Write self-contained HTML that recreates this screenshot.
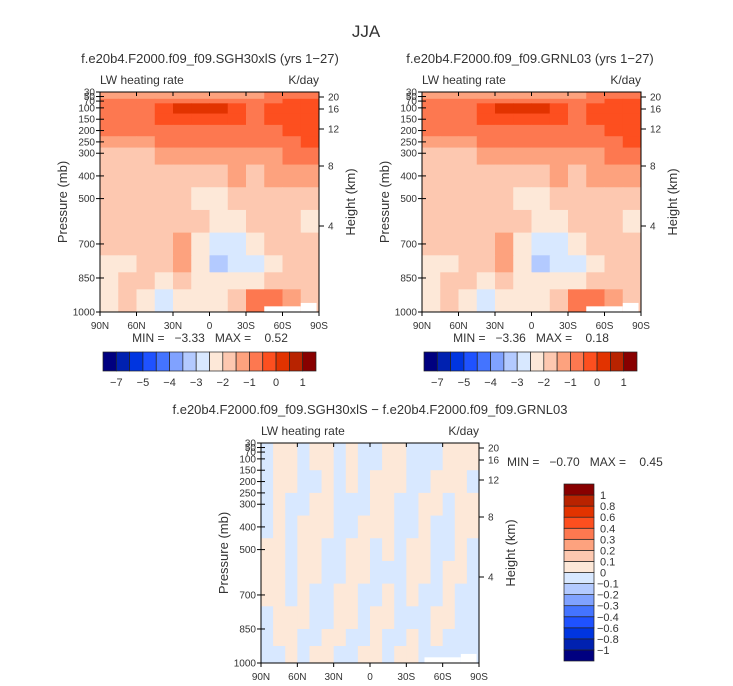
<!DOCTYPE html>
<html><head><meta charset="utf-8"><style>
html,body{margin:0;padding:0;background:#fff;}
svg{display:block;font-family:"Liberation Sans",sans-serif;}
text{white-space:pre;}
</style></head><body>
<svg id="s" width="733" height="686" xmlns="http://www.w3.org/2000/svg">
<text x="366" y="37" font-size="17" text-anchor="middle" fill="#333">JJA</text>
<text x="210" y="63" font-size="13" text-anchor="middle" fill="#333">f.e20b4.F2000.f09_f09.SGH30xlS (yrs 1−27)</text>
<text x="530" y="63" font-size="13" text-anchor="middle" fill="#333">f.e20b4.F2000.f09_f09.GRNL03 (yrs 1−27)</text>
<text x="370" y="414" font-size="13" text-anchor="middle" fill="#333">f.e20b4.F2000.f09_f09.SGH30xlS − f.e20b4.F2000.f09_f09.GRNL03</text>
<g id="g"></g>
</svg>
<script>
// ---- data ----
const pLevelsTop = [30,60,80,125,175,225,275,350,450,550,650,750,825,900,1000];
const latEdgesTop = [90,75,60,45,30,15,0,-15,-30,-45,-60,-75,-90];
const fieldA = [
[-1.2,-1.2,-1.2,-1.2,-1.2,-1.2,-1.2,-1.2,-1.2,-0.8,-0.8,-0.8],
[-0.8,-0.8,-0.8,-0.6,-0.6,-0.6,-0.6,-0.6,-0.7,-0.5,-0.3,-0.3],
[-0.8,-0.8,-0.7,-0.3,0.2,0.2,0.1,-0.3,-0.6,-0.4,-0.3,-0.3],
[-0.8,-0.8,-0.7,-0.4,-0.3,-0.3,-0.3,-0.4,-0.6,-0.3,-0.3,-0.3],
[-0.8,-0.8,-0.8,-0.8,-0.7,-0.6,-0.7,-0.8,-0.7,-0.6,-0.4,-0.3],
[-1.2,-1.2,-1.2,-0.9,-0.8,-0.8,-0.9,-0.9,-0.9,-0.8,-0.7,-0.4],
[-1.6,-1.6,-1.6,-1.2,-1.2,-1.2,-1.2,-1.2,-1.2,-1.0,-0.9,-0.8],
[-1.7,-1.7,-1.7,-1.6,-1.6,-1.8,-1.7,-1.2,-1.6,-1.2,-1.2,-1.2],
[-1.7,-1.7,-1.7,-1.9,-1.8,-2.1,-2.1,-1.6,-1.7,-1.6,-1.6,-1.8],
[-1.7,-1.7,-1.7,-1.8,-1.7,-1.6,-2.2,-2.1,-1.7,-1.7,-1.8,-2.1],
[-1.7,-1.7,-1.8,-1.7,-1.3,-2.0,-2.8,-2.6,-2.1,-1.8,-1.9,-1.9],
[-2.1,-2.1,-1.7,-1.7,-1.4,-2.2,-3.2,-2.8,-2.7,-2.2,-1.8,-1.8],
[-2.3,-1.7,-1.9,-2.1,-1.7,-2.1,-2.2,-2.3,-2.2,-1.9,-1.6,-1.7],
[-2.3,-1.5,-2.1,-2.7,-2.1,-2.0,-2.1,-1.6,-0.8,-0.6,-1.4,-1.5]];
const fieldB = fieldA;
const pLevelsDiff = [30,150,250,350,450,550,650,750,850,925,1000];
const latEdgesDiff = [90,80,70,60,50,40,30,20,10,0,-10,-20,-30,-40,-50,-60,-70,-80,-90];
const fieldDiff = [
[-0.05,0.05,0.05,-0.05,0.05,0.05,-0.05,0.05,-0.05,-0.05,0.05,0.05,-0.05,-0.05,-0.05,0.05,0.05,0.05],
[-0.05,0.05,0.05,-0.05,-0.05,0.05,-0.05,0.05,-0.05,0.05,0.05,0.05,-0.05,-0.05,0.05,0.05,0.05,-0.05],
[-0.05,0.05,-0.05,-0.05,0.05,0.05,-0.05,-0.05,-0.05,0.05,0.05,-0.05,-0.05,0.05,0.05,-0.05,0.05,0.05],
[-0.05,0.05,-0.05,0.05,0.05,0.05,-0.05,-0.05,0.05,0.05,0.05,-0.05,-0.05,0.05,-0.05,-0.05,0.05,0.05],
[0.05,0.05,-0.05,0.05,0.05,-0.05,-0.05,0.05,0.05,-0.05,0.05,-0.05,0.05,0.05,-0.05,-0.05,0.05,-0.05],
[0.05,0.05,-0.05,0.05,0.05,-0.05,-0.05,0.05,0.05,-0.05,-0.05,-0.05,0.05,0.05,-0.05,0.05,0.05,-0.05],
[0.05,0.05,-0.05,0.05,-0.05,-0.05,0.05,0.05,-0.05,-0.05,0.05,-0.05,0.05,-0.05,-0.05,0.05,-0.05,-0.05],
[-0.05,0.05,0.05,0.05,-0.05,-0.05,0.05,0.05,-0.05,0.05,0.05,-0.05,-0.05,-0.05,0.05,0.05,-0.05,-0.05],
[-0.05,0.05,0.05,-0.05,-0.05,0.05,0.05,-0.05,-0.05,0.05,-0.05,-0.05,0.05,-0.05,0.05,-0.05,-0.05,-0.05],
[-0.05,-0.05,0.05,-0.05,0.05,0.05,-0.05,-0.05,0.05,0.05,-0.05,0.05,0.05,-0.05,-0.05,-0.05,-0.05,-0.05]];
const threshTop = [-7,-6,-5,-4.5,-4,-3.5,-3,-2.5,-2,-1.5,-1,-0.5,0,0.5,1];
const threshDiff = [-1,-0.8,-0.6,-0.4,-0.3,-0.2,-0.1,0,0.1,0.2,0.3,0.4,0.6,0.8,1];
const colors = ["#000080","#0021b0","#0035e0","#1f52ff","#4474ff","#80a2ff","#b3caff","#d8e8ff","#fde8d8","#fdc8b0","#fda27e","#fd7850","#fd4f1f","#e23300","#b82300","#880000"];
const pTicks = [30,50,70,100,150,200,250,300,400,500,700,850,1000];
const zTicks = [[20,97],[16,109],[12,129],[8,166],[4,226]];
const latTicks = [90,60,30,0,-30,-60,-90];
const latLabels = ["90N","60N","30N","0","30S","60S","90S"];
const cbLabelsTop = ["−7","−5","−4","−3","−2","−1","0","1"];
const cbLabelsDiff = ["−1","−0.8","−0.6","−0.4","−0.3","−0.2","−0.1","0","0.1","0.2","0.3","0.4","0.6","0.8","1"];

const NS="http://www.w3.org/2000/svg";
const G=document.getElementById('g');
function el(t,a,p){const e=document.createElementNS(NS,t);for(const k in a)e.setAttribute(k,a[k]);(p||G).appendChild(e);return e;}
function txt(x,y,s,fs,anc,p){const e=el('text',{x:x,y:y,'font-size':fs,'text-anchor':anc||'start',fill:'#333'},p);e.textContent=s;return e;}
function colorFor(v,th){let k=0;while(k<th.length&&v>th[k])k++;return colors[k];}

function panel(name,x0,y0,w,h,lats,ps,field,th,zt,mask){
  const g=el('g',{});
  
  
  const xs=lat=>x0+(90-lat)/180*w;
  const ys=p=>y0+(p-30)/970*h;
  for(let r=0;r<field.length;r++)for(let c=0;c<field[r].length;c++){
    const x1=xs(lats[c]),x2=xs(lats[c+1]),y1=ys(ps[r]),y2=ys(ps[r+1]);
    const re=el('rect',{x:x1,y:y1,width:x2-x1+0.5,height:y2-y1+0.5,fill:colorFor(field[r][c],th)},g);
    
    
  }
  if(mask){el('rect',{x:xs(-45),y:ys(975),width:xs(-75)-xs(-45),height:ys(1000)-ys(975),fill:'#fff'},g);
           el('rect',{x:xs(-75),y:ys(960),width:xs(-88)-xs(-75),height:ys(1000)-ys(960),fill:'#fff'},g);}
  el('rect',{x:x0,y:y0,width:w,height:h,fill:'none',stroke:'#000','stroke-width':1},g);
  pTicks.forEach(p=>{const y=ys(p);el('line',{x1:x0-4,y1:y,x2:x0+4,y2:y,stroke:'#000'},g);
    txt(x0-5,y+3.5,String(p),10,'end',g);});
  latTicks.forEach((l,i)=>{const x=xs(l);el('line',{x1:x,y1:y0+h,x2:x,y2:y0+h+4,stroke:'#000'},g);
    el('line',{x1:x,y1:y0,x2:x,y2:y0+4,stroke:'#000'},g);
    txt(x,y0+h+17,latLabels[i],10,'middle',g);});
  zt.forEach(z=>{const y=y0+(z[1]-92)*h/220;el('line',{x1:x0+w,y1:y,x2:x0+w+5,y2:y,stroke:'#000'},g);
    txt(x0+w+9,y+3.5,String(z[0]),10,'start',g);});
  txt(x0,y0-8,'LW heating rate',12,'start',g);
  txt(x0+w,y0-8,'K/day',12,'end',g);
  const pl=txt(0,0,'Pressure (mb)',13,'middle',g);pl.setAttribute('transform',`translate(${x0-33},${y0+h/2}) rotate(-90)`);
  const hl=txt(0,0,'Height (km)',13,'middle',g);hl.setAttribute('transform',`translate(${x0+w+36},${y0+h/2}) rotate(-90)`);
}
panel('left-panel',100,92,219,220,latEdgesTop,pLevelsTop,fieldA,threshTop,zTicks,true);
panel('right-panel',422,92,219,220,latEdgesTop,pLevelsTop,fieldB,threshTop,zTicks,true);
panel('diff-panel',261,443,218,220,latEdgesDiff,pLevelsDiff,fieldDiff,threshDiff,zTicks,true);

txt(210,342,'MIN =   −3.33   MAX =    0.52',12,'middle');
txt(531,342,'MIN =   −3.36   MAX =    0.18',12,'middle');
txt(507,466,'MIN =   −0.70   MAX =    0.45',12,'start');

function hbar(name,x0,y0,w,h){
  const g=el('g',{});
  const bw=w/16;
  colors.forEach((c,i)=>{const r=el('rect',{x:x0+i*bw,y:y0,width:bw,height:h,fill:c,stroke:'#222','stroke-width':0.7},g);
    });
  cbLabelsTop.forEach((s,i)=>txt(x0+(2*i+1)*bw,y0+h+15,s,11,'middle',g));
}
hbar('left-colorbar',103,352,213,19);
hbar('right-colorbar',424,352,213,19);
(function(){
  const g=el('g',{});
  const x0=564,y0=484,w=30,h=177,bh=h/16;
  colors.forEach((c,i)=>{const r=el('rect',{x:x0,y:y0+h-(i+1)*bh,width:w,height:bh,fill:c,stroke:'#222','stroke-width':0.7},g);
    });
  cbLabelsDiff.forEach((s,i)=>txt(s.startsWith('−')?597:600,y0+h-(i+1)*bh+4,s,11,'start',g));
})();
</script>
</body></html>
